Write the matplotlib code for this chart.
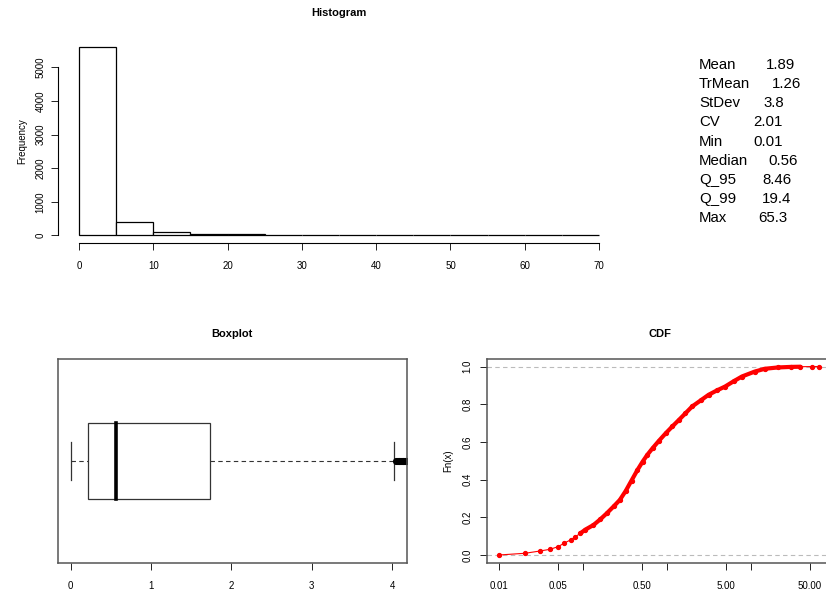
import matplotlib
matplotlib.use("Agg")
import matplotlib.pyplot as plt
import numpy as np

plt.rcParams["font.family"] = ["Liberation Sans", "DejaVu Sans"]

# histogram: bin edges (width 5) and counts
bin_edges = list(range(0, 75, 5))
bin_counts = [5615, 400, 110, 42, 35, 18, 12, 8, 6, 4, 3, 2, 1, 1]

# summary statistics panel
stat_names = ["Mean", "TrMean", "StDev", "CV", "Min", "Median", "Q_95", "Q_99", "Max"]
stat_values = ["1.89", "1.26", "3.8", "2.01", "0.01", "0.56", "8.46", "19.4", "65.3"]

# boxplot five-number summary (whiskers / box / median) and outliers
box_min, box_q1, box_med, box_q3, box_whi = 0.01, 0.21, 0.56, 1.74, 4.02
box_outliers = [4.05, 4.06, 4.07, 4.08, 4.09, 4.10, 4.11, 4.12, 4.13, 4.14, 4.15,
                4.16, 4.17, 4.18, 4.19, 4.5, 5.2, 6.8, 8.46, 12.0, 19.4, 30.0, 65.3]

cdf_x = [0.01, 0.0202, 0.0304, 0.040, 0.050, 0.0587, 0.0703, 0.0804, 0.0922, 0.106,
         0.132, 0.160, 0.190, 0.230, 0.272, 0.320, 0.375, 0.44, 0.51, 0.58, 0.67, 0.80,
         0.96, 1.15, 1.38, 1.65, 1.98, 2.50, 3.11, 3.90, 4.9, 6.2, 7.76, 11.0,
         14.5, 20.7, 29.6, 38.6, 53.2, 65.3]
cdf_y = [0.0, 0.009, 0.021, 0.030, 0.044, 0.062, 0.080, 0.097, 0.115, 0.135,
         0.159, 0.190, 0.221, 0.258, 0.292, 0.340, 0.395, 0.450, 0.496, 0.532, 0.567, 0.607,
         0.646, 0.682, 0.717, 0.752, 0.788, 0.820, 0.850, 0.873, 0.894, 0.922, 0.947, 0.973,
         0.988, 0.995, 0.998, 0.999, 1.0, 1.0]
cdf_ticks = [0.01, 0.05, 0.1, 0.5, 1, 5, 10, 50, 100]
cdf_ticklabels = ["0.01", "0.05", "", "0.50", "", "5.00", "", "50.00", ""]

W, H = 826, 592
fig = plt.figure(figsize=(W / 100, H / 100), dpi=100)


def px_axes(l, t, r, b):
    return fig.add_axes([l / W, 1 - b / H, (r - l) / W, (b - t) / H])


TICK = dict(labelsize=7, length=5, width=0.7, color="#222", pad=8)

# ---- Histogram ----
ax = px_axes(58.2, 39.2, 619.8, 243)
ax.hist(bin_edges[:-1], bins=bin_edges, weights=bin_counts,
        facecolor="white", edgecolor="black", linewidth=0.9)
ax.set_xlim(-2.8, 72.8)
top = max(bin_counts)
ax.set_ylim(-0.04 * top, 1.04 * top)
for s in ("top", "right"):
    ax.spines[s].set_visible(False)
ax.spines["left"].set_bounds(0, 5000)
ax.spines["bottom"].set_bounds(0, 70)
for s in ("left", "bottom"):
    ax.spines[s].set_linewidth(0.8)
ax.set_xticks(range(0, 71, 10))
ax.set_yticks(range(0, 5001, 1000))
ax.tick_params(**TICK)
ax.tick_params(axis="y", pad=4)
for lab in ax.get_yticklabels():
    lab.set_rotation(90)
    lab.set_va("center")
ax.set_ylabel("Frequency", fontsize=7, labelpad=6)
fig.text(339 / W, 1 - 13 / H, "Histogram", ha="center", va="center",
         fontsize=8, fontweight="bold")

# ---- Stats text ----
row_y = np.linspace(65, 218, len(stat_names))
val_x = [766, 772, 763, 753, 753, 768, 762, 762, 758]
for name, val, y, vx in zip(stat_names, stat_values, row_y, val_x):
    fig.text(699 / W, 1 - y / H, name, ha="left", va="center", fontsize=10.8)
    fig.text(vx / W, 1 - y / H, val, ha="left", va="center", fontsize=10.8)

# ---- Boxplot ----
bx = px_axes(57.7, 359.3, 406.7, 562.7)
c = 1.0
hw, cw = 0.2, 0.1
bx.add_patch(plt.Rectangle((box_q1, c - hw), box_q3 - box_q1, 2 * hw,
                           facecolor="white", edgecolor="#333", linewidth=0.9, zorder=2))
bx.plot([box_med, box_med], [c - hw, c + hw], color="black", linewidth=2.6, zorder=3)
bx.plot([box_min, box_q1], [c, c], color="#333", linestyle=(0, (4, 3)), linewidth=0.8)
bx.plot([box_q3, box_whi], [c, c], color="#333", linestyle=(0, (4, 3)), linewidth=0.8)
for w in (box_min, box_whi):
    bx.plot([w, w], [c - cw, c + cw], color="#333", linewidth=0.9)
bx.plot(box_outliers, [c] * len(box_outliers), "o", markersize=4,
        markerfacecolor="none", markeredgecolor="black", markeredgewidth=1.1)
bx.set_xlim(0 - 0.04 * 4.02, 4.02 * 1.04)
bx.set_ylim(0.46, 1.54)
bx.set_yticks([])
bx.set_xticks(range(0, 5))
bx.tick_params(**TICK)
for s in bx.spines.values():
    s.set_linewidth(1.1)
    s.set_color("#555")
fig.text(232 / W, 1 - 334 / H, "Boxplot", ha="center", va="center",
         fontsize=8, fontweight="bold")

# ---- CDF ----
cx = px_axes(486.7, 359, 835, 562.5)
cx.set_xscale("log")
lo, hi = np.log10(cdf_x[0]), np.log10(cdf_x[-1])
pad = 0.04 * (hi - lo)
cx.set_xlim(10 ** (lo - pad), 10 ** (hi + pad))
cx.set_ylim(-0.04, 1.04)
for h in (0, 1):
    cx.axhline(h, color="#bbbbbb", linestyle=(0, (4, 3)), linewidth=0.8, zorder=1)
cx.plot(cdf_x, cdf_y, color="red", linewidth=0.8, zorder=2)
dense = [i for i, y in enumerate(cdf_y) if 0.1 <= y <= 0.999]
cx.plot([cdf_x[i] for i in dense], [cdf_y[i] for i in dense],
        color="red", linewidth=3, solid_capstyle="round", solid_joinstyle="round", zorder=3)
cx.plot(cdf_x, cdf_y, "o", color="red", markersize=2.8, zorder=4)
cx.set_xticks(cdf_ticks)
cx.set_xticklabels(cdf_ticklabels)
cx.xaxis.set_minor_locator(matplotlib.ticker.NullLocator())
cx.set_yticks([0, 0.2, 0.4, 0.6, 0.8, 1.0])
cx.set_yticklabels(["0.0", "0.2", "0.4", "0.6", "0.8", "1.0"])
cx.tick_params(**TICK)
cx.tick_params(axis="y", pad=5)
for lab in cx.get_yticklabels():
    lab.set_rotation(90)
    lab.set_va("center")
cx.set_ylabel("Fn(x)", fontsize=7, labelpad=7)
for s in cx.spines.values():
    s.set_linewidth(1.1)
    s.set_color("#555")
fig.text(660 / W, 1 - 334 / H, "CDF", ha="center", va="center",
         fontsize=8, fontweight="bold")

fig.savefig("out.png", dpi=100)
